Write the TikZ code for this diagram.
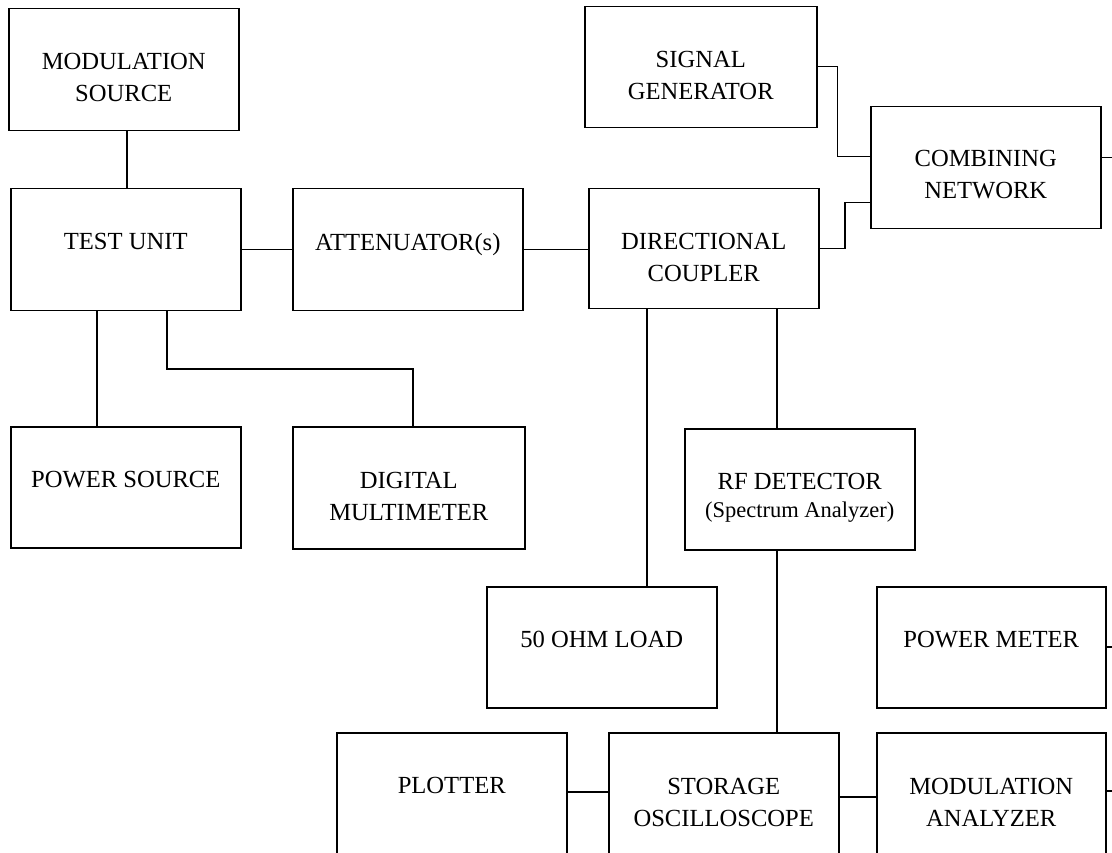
\documentclass[tikz,border=0pt]{standalone}
\usepackage{fontspec}
\setmainfont{Liberation Serif}
\newcommand{\mlines}[1]{\begin{tabular}[t]{@{}c@{}}#1\end{tabular}}
\begin{document}
\begin{tikzpicture}[x=1pt,y=-1pt,
  box/.style={draw, line width=1.5pt, rectangle, inner sep=0pt, anchor=north west},
  lbl/.style={anchor=base, inner sep=0pt, font=\fontsize{24.6}{32}\selectfont},
  wire/.style={line width=1.5pt}]
\clip (0,0) rectangle (1112,853);
\fill[white] (0,0) rectangle (1112,853);
% boxes
\node[box, minimum width=230pt, minimum height=122pt] (ms)  at (8,8) {};
\node[box, minimum width=230pt, minimum height=122pt] (tu)  at (10,188) {};
\node[box, minimum width=230pt, minimum height=122pt] (att) at (292,188) {};
\node[box, minimum width=230pt, minimum height=120pt] (dc)  at (588,188) {};
\node[box, minimum width=232pt, minimum height=121pt] (sg)  at (584,6) {};
\node[box, minimum width=230pt, minimum height=122pt] (cn)  at (870,106) {};
\node[box, minimum width=230pt, minimum height=121pt] (ps)  at (10,426) {};
\node[box, minimum width=232pt, minimum height=122pt] (dm)  at (292,426) {};
\node[box, minimum width=230pt, minimum height=121pt] (rf)  at (684,428) {};
\node[box, minimum width=230pt, minimum height=121pt] (ld)  at (486,586) {};
\node[box, minimum width=229pt, minimum height=121pt] (pm)  at (876,586) {};
\node[box, minimum width=230pt, minimum height=140pt] (pl)  at (336,732) {};
\node[box, minimum width=230pt, minimum height=140pt] (so)  at (608,732) {};
\node[box, minimum width=229pt, minimum height=140pt] (ma)  at (876,732) {};
% labels
\node[lbl] (ms-t)  at ([yshift=-62pt]ms.north)  {\mlines{MODULATION\\SOURCE}};
\node[lbl] (tu-t)  at ([yshift=-62pt]tu.north)  {TEST UNIT};
\node[lbl] (att-t) at ([yshift=-63pt]att.north) {ATTENUATOR(s)};
\node[lbl] (dc-t)  at ([yshift=-62pt]dc.north)  {\mlines{DIRECTIONAL\\COUPLER}};
\node[lbl] (sg-t)  at ([yshift=-62pt]sg.north)  {\mlines{SIGNAL\\GENERATOR}};
\node[lbl] (cn-t)  at ([yshift=-61pt]cn.north)  {\mlines{COMBINING\\NETWORK}};
\node[lbl] (ps-t)  at ([yshift=-61.5pt]ps.north) {POWER SOURCE};
\node[lbl] (dm-t)  at ([yshift=-62pt]dm.north)  {\mlines{DIGITAL\\MULTIMETER}};
\node[lbl] (rf-t)  at ([yshift=-61pt]rf.north)  {\mlines{RF DETECTOR\\[-4pt]{\fontsize{22.5}{28}\selectfont (Spectrum Analyzer)}}};
\node[lbl] (ld-t)  at ([yshift=-61pt]ld.north)  {50 OHM LOAD};
\node[lbl] (pm-t)  at ([yshift=-61pt]pm.north)  {POWER METER};
\node[lbl] (pl-t)  at ([yshift=-61pt]pl.north)  {PLOTTER};
\node[lbl] (so-t)  at ([yshift=-62pt]so.north)  {\mlines{STORAGE\\OSCILLOSCOPE}};
\node[lbl] (ma-t)  at ([yshift=-62pt]ma.north)  {\mlines{MODULATION\\ANALYZER}};
% free ends
\coordinate (cnend) at (1112,157.7);
\coordinate (pmend) at (1112,647);
\coordinate (maend) at (1112,791);
% connectors
\draw[wire] ([xshift=3pt]ms.south) -- ([xshift=3pt]ms.south |- tu.north);
\draw[wire] (tu.east) -- (tu.east -| att.west);
\draw[wire] (att.east) -- (att.east -| dc.west);
\draw[wire] ([xshift=-29pt]tu.south) -- ([xshift=-29pt]tu.south |- ps.north);
\draw[wire] ([xshift=41pt]tu.south) -- ++(0,57.5) -| ([xshift=4pt]dm.north);
\draw[wire] ([yshift=0.8pt]sg.east) -- ++(20,0) |- ([yshift=11.3pt]cn.west);
\draw[wire] (dc.east) -- ++(25.5,0) |- ([yshift=-34.7pt]cn.west);
\draw[wire] (cn.east |- cnend) -- (cnend);
\draw[wire] ([xshift=-57pt]dc.south) -- ([xshift=-57pt]dc.south |- ld.north);
\draw[wire] ([xshift=73pt]dc.south) -- ([xshift=73pt]dc.south |- rf.north);
\draw[wire] ([xshift=-23pt]rf.south) -- ([xshift=-23pt]rf.south |- so.north);
\draw[wire] ([yshift=11pt]pl.east) -- ([yshift=11pt]pl.east -| so.west);
\draw[wire] ([yshift=6pt]so.east) -- ([yshift=6pt]so.east -| ma.west);
\draw[wire] (pm.east |- pmend) -- (pmend);
\draw[wire] (ma.east |- maend) -- (maend);
\end{tikzpicture}
\end{document}
